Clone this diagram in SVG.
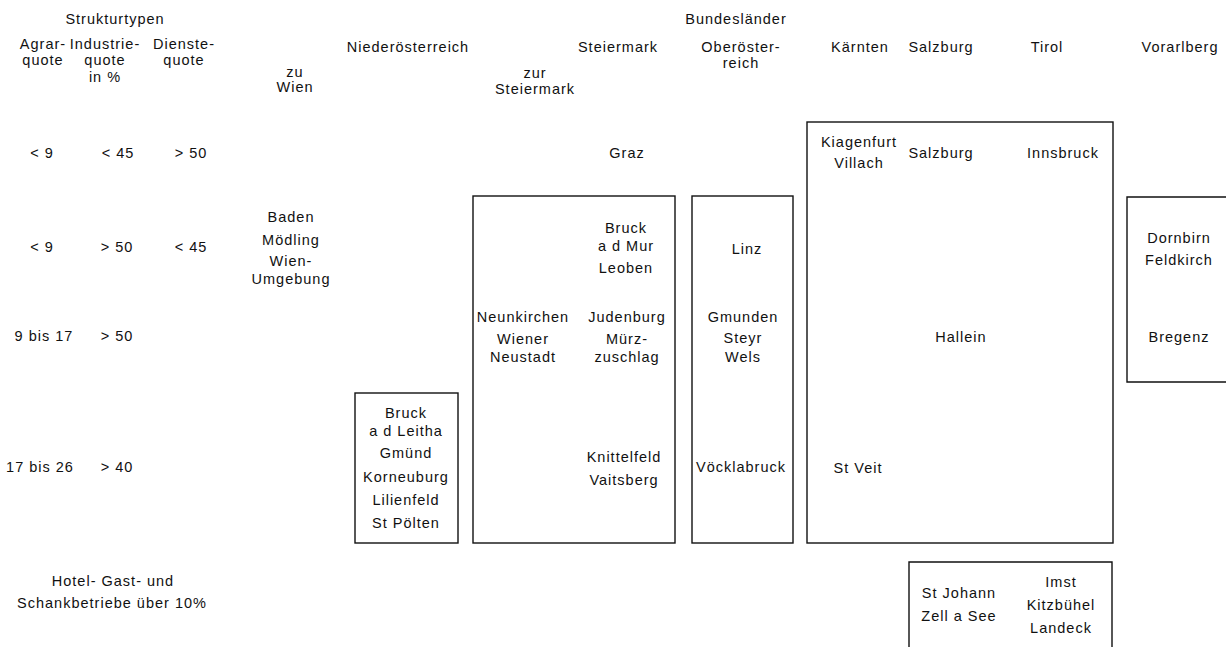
<svg xmlns="http://www.w3.org/2000/svg" width="1226" height="647" viewBox="0 0 1226 647">
<style>
text{font-family:"Liberation Sans",Arial,sans-serif;font-size:14.5px;fill:#111;text-anchor:middle;letter-spacing:1px}
.b{fill:none;stroke:#111;stroke-width:1.4}
</style>
<rect width="1226" height="647" fill="#fff"/>
<g id="header">
<text x="115" y="24">Strukturtypen</text>
<text x="43" y="49">Agrar-</text><text x="43" y="65">quote</text>
<text x="105" y="49">Industrie-</text><text x="105" y="65">quote</text><text x="105" y="82">in %</text>
<text x="184" y="49">Dienste-</text><text x="184" y="65">quote</text>
<text x="295" y="77">zu</text><text x="295" y="92">Wien</text>
<text x="408" y="52">Niederösterreich</text>
<text x="535" y="78">zur</text><text x="535" y="94">Steiermark</text>
<text x="736" y="24">Bundesländer</text>
<text x="618" y="52">Steiermark</text>
<text x="741" y="52">Oberöster-</text><text x="741" y="68">reich</text>
<text x="860" y="52">Kärnten</text>
<text x="941" y="52">Salzburg</text>
<text x="1047" y="52">Tirol</text>
<text x="1180" y="52">Vorarlberg</text>
</g>
<g id="rows">
<text x="42" y="158">&lt; 9</text><text x="118" y="158">&lt; 45</text><text x="191" y="158">&gt; 50</text>
<text x="42" y="252">&lt; 9</text><text x="117" y="252">&gt; 50</text><text x="191" y="252">&lt; 45</text>
<text x="44" y="341">9 bis 17</text><text x="117" y="341">&gt; 50</text>
<text x="40" y="472">17 bis 26</text><text x="117" y="472">&gt; 40</text>
<text x="113" y="586">Hotel-  Gast- und</text>
<text x="112" y="608">Schankbetriebe über 10%</text>
</g>
<g id="wien">
<text x="291" y="222">Baden</text><text x="291" y="245">Mödling</text><text x="291" y="266">Wien-</text><text x="291" y="284">Umgebung</text>
</g>
<g id="noe-box">
<rect class="b" x="355" y="393" width="103" height="150"/>
<text x="406" y="418">Bruck</text><text x="406" y="436">a d  Leitha</text><text x="406" y="458">Gmünd</text><text x="406" y="482">Korneuburg</text><text x="406" y="505">Lilienfeld</text><text x="406" y="528">St  Pölten</text>
</g>
<g id="graz"><text x="627" y="158">Graz</text></g>
<g id="stmk-box">
<rect class="b" x="473" y="196" width="202" height="347"/>
<text x="626" y="233">Bruck</text><text x="626" y="251">a  d  Mur</text><text x="626" y="273">Leoben</text>
<text x="523" y="322">Neunkirchen</text><text x="523" y="344">Wiener</text><text x="523" y="362">Neustadt</text>
<text x="627" y="322">Judenburg</text><text x="627" y="344">Mürz-</text><text x="627" y="362">zuschlag</text>
<text x="624" y="462">Knittelfeld</text><text x="624" y="485">Vaitsberg</text>
</g>
<g id="ooe-box">
<rect class="b" x="692" y="196" width="101" height="347"/>
<text x="747" y="254">Linz</text>
<text x="743" y="322">Gmunden</text><text x="743" y="343">Steyr</text><text x="743" y="362">Wels</text>
<text x="741" y="472">Vöcklabruck</text>
</g>
<g id="ktn-sbg-tirol-box">
<rect class="b" x="807" y="122" width="306" height="421"/>
<text x="859" y="147">Kiagenfurt</text><text x="859" y="168">Villach</text>
<text x="941" y="158">Salzburg</text>
<text x="1063" y="158">Innsbruck</text>
<text x="961" y="342">Hallein</text>
<text x="858" y="473">St  Veit</text>
</g>
<g id="vbg-box">
<path class="b" d="M1226 197 H1127 V382 H1226"/>
<text x="1179" y="243">Dornbirn</text><text x="1179" y="265">Feldkirch</text>
<text x="1179" y="342">Bregenz</text>
</g>
<g id="tourism-box">
<path class="b" d="M909 647 V562 H1112 V647"/>
<text x="959" y="598">St  Johann</text><text x="959" y="621">Zell a  See</text>
<text x="1061" y="587">Imst</text><text x="1061" y="610">Kitzbühel</text><text x="1061" y="633">Landeck</text>
</g>
<g id="connectors"></g>
</svg>
